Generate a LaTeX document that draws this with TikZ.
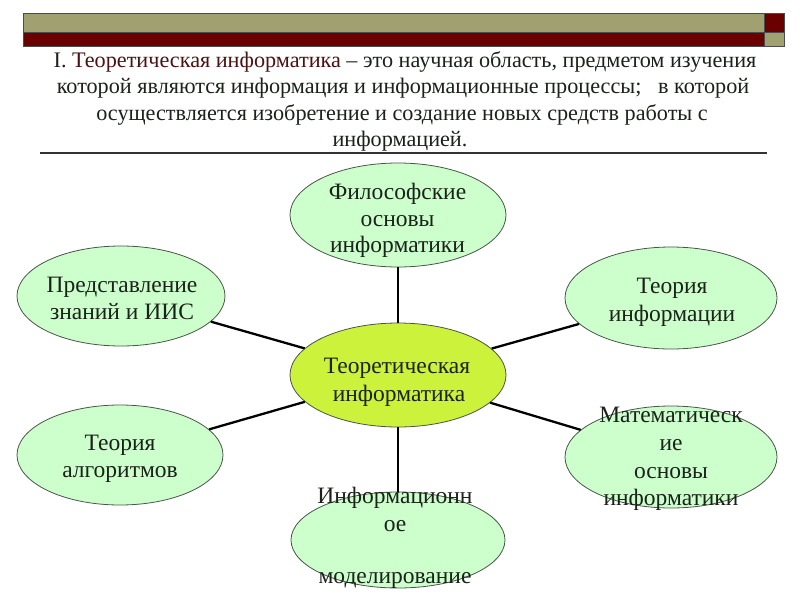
\documentclass[tikz,border=0pt]{standalone}
\usepackage{fontspec}
\setmainfont{Liberation Serif}
\usetikzlibrary{shapes.geometric}
\definecolor{olivebar}{HTML}{A0A070}
\definecolor{redbar}{HTML}{6B0000}
\definecolor{outerfill}{HTML}{CCFFCC}
\definecolor{centerfill}{HTML}{CCF23C}
\definecolor{edgegray}{HTML}{4A554A}
\definecolor{maroontext}{HTML}{4A1212}
\definecolor{bodytext}{HTML}{1A221A}
\tikzset{
  bar/.style={draw=black!70, line width=0.6pt},
  outer/.style={ellipse, draw=edgegray, line width=0.8pt, fill=outerfill, inner sep=0pt},
  hub/.style={ellipse, draw=edgegray, line width=0.8pt, fill=centerfill, inner sep=0pt},
  titleline/.style={anchor=base, inner sep=0pt, font=\fontsize{22.2}{26}\selectfont, text=bodytext},
  etxt/.style={anchor=base, inner sep=0pt, font=\fontsize{23.5}{28}\selectfont, text=bodytext},
  link/.style={line width=2.3pt, draw=black}
}
\begin{document}
\begin{tikzpicture}[x=1pt,y=-1pt]
\useasboundingbox (0,0) rectangle (800,600);
\fill[white] (0,0) rectangle (800,600);
% header bars
\filldraw[bar, fill=olivebar] (23,13) rectangle (764,32);
\filldraw[bar, fill=redbar] (23,32) rectangle (764,46);
\filldraw[bar, fill=redbar] (764,13) rectangle (784,32);
\filldraw[bar, fill=olivebar] (764,32) rectangle (784,46);
% title
\node[titleline] (t1) at (405,67) {I. \textcolor{maroontext}{Теоретическая информатика} – это научная область, предметом изучения};
\node[titleline] (t2) at (403,93.5) {которой являются информация и информационные процессы;\ \ \ в которой};
\node[titleline] (t3) at (402,120) {осуществляется изобретение и создание новых средств работы с};
\node[titleline] (t4) at (400,146.5) {информацией.};
\draw[line width=2pt, draw=black!80] (40,153) -- (767,153);
% ellipses
\node[hub, minimum width=216pt, minimum height=104pt] (c) at (398,375) {};
\node[outer, minimum width=216pt, minimum height=104pt] (top) at (398,215) {};
\node[outer, minimum width=208pt, minimum height=100pt] (lt) at (121,296) {};
\node[outer, minimum width=212pt, minimum height=102pt] (rt) at (671,298) {};
\node[outer, minimum width=206pt, minimum height=100pt] (lb) at (120,455) {};
\node[outer, minimum width=212pt, minimum height=102pt] (rb) at (671,457) {};
\node[outer, minimum width=214pt, minimum height=96pt] (bot) at (398,540) {};
% connectors
\draw[link] (c) -- (top);
\draw[link] (c) -- (lt);
\draw[link] (c) -- (rt);
\draw[link] (c) -- (lb);
\draw[link] (c) -- (rb);
\draw[link] (c) -- (bot);
% texts
\node[etxt] (c1) at (397,373) {Теоретическая};
\node[etxt] (c2) at (399,401) {информатика};
\node[etxt] (top1) at (397.5,199) {Философские};
\node[etxt] (top2) at (397.5,226) {основы};
\node[etxt] (top3) at (397.5,252) {информатики};
\node[etxt] (lt1) at (122,292) {Представление};
\node[etxt] (lt2) at (122,319) {знаний и ИИС};
\node[etxt] (rt1) at (672,293) {Теория};
\node[etxt] (rt2) at (672,321) {информации};
\node[etxt] (lb1) at (120,450) {Теория};
\node[etxt] (lb2) at (120,477) {алгоритмов};
\node[etxt] (rb1) at (671,422) {Математическ};
\node[etxt] (rb2) at (671,450) {ие};
\node[etxt] (rb3) at (671,478) {основы};
\node[etxt] (rb4) at (671,505) {информатики};
\node[etxt] (bot1) at (395,503) {Информационн};
\node[etxt] (bot2) at (395,531) {ое};
\node[etxt] (bot3) at (395,583) {моделирование};
\end{tikzpicture}
\end{document}
